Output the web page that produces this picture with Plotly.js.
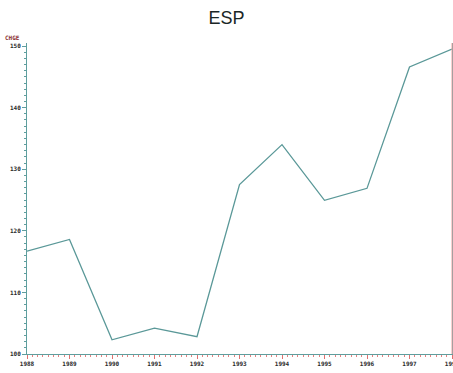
<!DOCTYPE html>
<html>
<head>
<meta charset="utf-8">
<script src="https://cdn.plot.ly/plotly-3.0.1.min.js"></script>
<style>
  html, body { margin: 0; padding: 0; background: #fff; }
  #chart { width: 453px; height: 373px; }
</style>
</head>
<body>
<div id="chart"></div>
<script>
// Yearly series for ESP
const years = [1988, 1989, 1990, 1991, 1992, 1993, 1994, 1995, 1996, 1997, 1998];
const chge = [116.7, 118.6, 102.3, 104.2, 102.8, 127.5, 134.0, 124.95, 126.9, 146.6, 149.5];
const yTicks = [100, 110, 120, 130, 140, 150];

const axisColor = '#5f9e9e';
const tickFont = { family: 'DejaVu Sans Mono, monospace', size: 6, color: '#2a2a2a', weight: 'bold' };

const trace = {
  x: years,
  y: chge,
  type: 'scatter',
  mode: 'lines',
  line: { color: '#5a9898', width: 1.3 },
  hoverinfo: 'x+y'
};

const layout = {
  width: 453,
  height: 373,
  margin: { l: 27, r: 1, t: 43, b: 19 },
  paper_bgcolor: '#ffffff',
  plot_bgcolor: '#ffffff',
  showlegend: false,
  title: {
    text: 'ESP',
    font: { family: 'Liberation Sans, Arial, sans-serif', size: 18, color: '#1a2626' },
    x: 0.5, xanchor: 'center',
    y: 0.952, yanchor: 'middle'
  },
  xaxis: {
    range: [1988, 1998],
    tickmode: 'array',
    tickvals: years,
    ticktext: years.map(String),
    ticklabeloverflow: 'allow',
    showgrid: false,
    zeroline: false,
    showline: true,
    linecolor: axisColor,
    linewidth: 1,
    ticks: 'outside',
    ticklen: 4,
    tickcolor: '#e07070',
    tickfont: tickFont,
    minor: { dtick: 0.125, ticklen: 2, tickcolor: '#e08080', ticks: 'outside' }
  },
  yaxis: {
    range: [100, 150.5],
    tickmode: 'array',
    tickvals: yTicks,
    ticktext: yTicks.map(String),
    showgrid: false,
    zeroline: false,
    showline: true,
    mirror: true,
    linecolor: axisColor,
    linewidth: 1,
    ticks: 'outside',
    ticklen: 4,
    tickcolor: axisColor,
    tickfont: tickFont,
    minor: { dtick: 1, ticklen: 2, tickcolor: axisColor, ticks: 'outside' }
  },
  shapes: [
    // right edge of the frame
    { type: 'line', xref: 'paper', yref: 'paper', x0: 1, x1: 1, y0: 0, y1: 1,
      line: { color: '#f0a0a0', width: 1 } }
  ],
  annotations: [
    { text: 'CHGE', xref: 'paper', yref: 'paper', x: -0.035, y: 1.0, xanchor: 'center', yanchor: 'bottom',
      showarrow: false, font: { family: 'DejaVu Sans Mono, monospace', size: 6, color: '#8a3030', weight: 'bold' } }
  ]
};

Plotly.newPlot('chart', [trace], layout, { displayModeBar: false, staticPlot: true });
</script>
</body>
</html>
